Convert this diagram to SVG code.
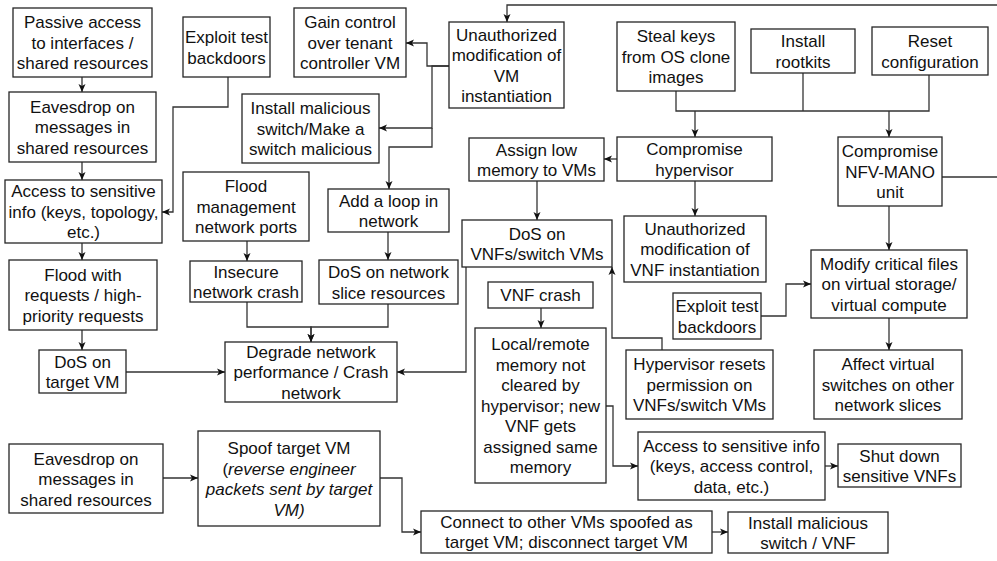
<svg xmlns="http://www.w3.org/2000/svg" width="997" height="561" viewBox="0 0 997 561">
  <style>
    .box { fill: #ffffff; stroke: #262626; stroke-width: 1.3; }
    .lbl { font-family: "Liberation Sans", Arial, Helvetica, sans-serif; font-size: 17px; fill: #111111; text-anchor: middle; }
    .it { font-style: italic; }
    .wire { fill: none; stroke: #333333; stroke-width: 1.3; }
    .arr { marker-end: url(#head); }
  </style>
  <defs>
    <marker id="head" markerUnits="userSpaceOnUse" markerWidth="10" markerHeight="10" viewBox="0 0 10 10" refX="9" refY="5" orient="auto">
      <path d="M1,1.5 L9,5 L1,8.5 L3,5 z" fill="#111111"/>
    </marker>
  </defs>

  <rect width="997" height="561" fill="#ffffff"/>

  <!-- connectors -->
  <g id="connectors">
    <path class="wire arr" d="M82,77 V92"/>
    <path class="wire arr" d="M82,162 V180"/>
    <path class="wire arr" d="M82,243 V260"/>
    <path class="wire arr" d="M82,330 V350"/>
    <path class="wire arr" d="M228,77 V107 H173 V212 H162"/>
    <path class="wire arr" d="M126,372 H225"/>
    <path class="wire arr" d="M247,241 V261"/>
    <path class="wire arr" d="M247,302 V327 H311 V342"/>
    <path class="wire arr" d="M388,304 V327 H311 V342"/>
    <path class="wire arr" d="M388,232 V260"/>
    <path class="wire arr" d="M449,66 H427 V43 H406"/>
    <path class="wire arr" d="M449,66 H432 V128 H379"/>
    <path class="wire arr" d="M432,128 V147 H389 V189"/>
    <path class="wire arr" d="M942,177 H1004 V5 H507 V22"/>
    <path class="wire" d="M676,91 V111 H929 V75"/>
    <path class="wire" d="M803,73 V111"/>
    <path class="wire arr" d="M695,111 V137"/>
    <path class="wire arr" d="M889,111 V137"/>
    <path class="wire arr" d="M617,159 H604"/>
    <path class="wire arr" d="M537,181 V220"/>
    <path class="wire arr" d="M695,181 V216"/>
    <path class="wire arr" d="M466,267 V372 H397"/>
    <path class="wire arr" d="M662,350 V338 H612 V267"/>
    <path class="wire arr" d="M889,206 V250"/>
    <path class="wire arr" d="M761,316 H786 V284 H811"/>
    <path class="wire arr" d="M889,318 V350"/>
    <path class="wire arr" d="M541,308 V328"/>
    <path class="wire arr" d="M606,406 H613 V466 H638"/>
    <path class="wire arr" d="M825,466 H838"/>
    <path class="wire arr" d="M163,478 H198"/>
    <path class="wire arr" d="M380,478 H402 V532 H421"/>
    <path class="wire arr" d="M712,532 H728"/>
  </g>

  <!-- nodes -->
  <g id="passive-access">
    <rect class="box" x="13" y="8" width="139" height="69"/>
    <text class="lbl" x="82.5" y="28">Passive access</text>
    <text class="lbl" x="82.5" y="48.5">to interfaces /</text>
    <text class="lbl" x="82.5" y="69">shared resources</text>
  </g>
  <g id="eavesdrop-1">
    <rect class="box" x="9" y="92" width="147" height="70"/>
    <text class="lbl" x="82.5" y="112.5">Eavesdrop on</text>
    <text class="lbl" x="82.5" y="133">messages in</text>
    <text class="lbl" x="82.5" y="153.5">shared resources</text>
  </g>
  <g id="sensitive-info-1">
    <rect class="box" x="5" y="180" width="157" height="63"/>
    <text class="lbl" x="83.5" y="197">Access to sensitive</text>
    <text class="lbl" x="83.5" y="217.5">info (keys, topology,</text>
    <text class="lbl" x="83.5" y="238">etc.)</text>
  </g>
  <g id="flood-requests">
    <rect class="box" x="9" y="260" width="148" height="70"/>
    <text class="lbl" x="83" y="280.5">Flood with</text>
    <text class="lbl" x="83" y="301">requests / high-</text>
    <text class="lbl" x="83" y="321.5">priority requests</text>
  </g>
  <g id="dos-target-vm">
    <rect class="box" x="39" y="350" width="87" height="43"/>
    <text class="lbl" x="82.5" y="367.5">DoS on</text>
    <text class="lbl" x="82.5" y="388">target VM</text>
  </g>
  <g id="exploit-backdoors-1">
    <rect class="box" x="183" y="17" width="87" height="60"/>
    <text class="lbl" x="226.5" y="43">Exploit test</text>
    <text class="lbl" x="226.5" y="63.5">backdoors</text>
  </g>
  <g id="gain-control">
    <rect class="box" x="294" y="8" width="112" height="69"/>
    <text class="lbl" x="350" y="28">Gain control</text>
    <text class="lbl" x="350" y="48.5">over tenant</text>
    <text class="lbl" x="350" y="69">controller VM</text>
  </g>
  <g id="install-malicious-switch">
    <rect class="box" x="242" y="94" width="137" height="69"/>
    <text class="lbl" x="310.5" y="114">Install malicious</text>
    <text class="lbl" x="310.5" y="134.5">switch/Make a</text>
    <text class="lbl" x="310.5" y="155">switch malicious</text>
  </g>
  <g id="flood-mgmt-ports">
    <rect class="box" x="183" y="172" width="126" height="69"/>
    <text class="lbl" x="246" y="192">Flood</text>
    <text class="lbl" x="246" y="212.5">management</text>
    <text class="lbl" x="246" y="233">network ports</text>
  </g>
  <g id="insecure-crash">
    <rect class="box" x="190" y="261" width="112" height="41"/>
    <text class="lbl" x="246" y="277.5">Insecure</text>
    <text class="lbl" x="246" y="298">network crash</text>
  </g>
  <g id="add-loop">
    <rect class="box" x="328" y="189" width="121" height="43"/>
    <text class="lbl" x="388.5" y="206.5">Add a loop in</text>
    <text class="lbl" x="388.5" y="227">network</text>
  </g>
  <g id="dos-slice">
    <rect class="box" x="319" y="260" width="139" height="44"/>
    <text class="lbl" x="388.5" y="278">DoS on network</text>
    <text class="lbl" x="388.5" y="298.5">slice resources</text>
  </g>
  <g id="degrade-network">
    <rect class="box" x="225" y="342" width="172" height="60"/>
    <text class="lbl" x="311" y="357.5">Degrade network</text>
    <text class="lbl" x="311" y="378">performance / Crash</text>
    <text class="lbl" x="311" y="398.5">network</text>
  </g>
  <g id="unauth-vm-instantiation">
    <rect class="box" x="449" y="22" width="115" height="86"/>
    <text class="lbl" x="506.5" y="40.5">Unauthorized</text>
    <text class="lbl" x="506.5" y="61">modification of</text>
    <text class="lbl" x="506.5" y="81.5">VM</text>
    <text class="lbl" x="506.5" y="102">instantiation</text>
  </g>
  <g id="assign-low-memory">
    <rect class="box" x="469" y="138" width="135" height="43"/>
    <text class="lbl" x="536.5" y="155.5">Assign low</text>
    <text class="lbl" x="536.5" y="176">memory to VMs</text>
  </g>
  <g id="dos-vnfs">
    <rect class="box" x="462" y="220" width="150" height="47"/>
    <text class="lbl" x="537" y="239.5">DoS on</text>
    <text class="lbl" x="537" y="260">VNFs/switch VMs</text>
  </g>
  <g id="steal-keys">
    <rect class="box" x="617" y="22" width="118" height="69"/>
    <text class="lbl" x="676" y="42">Steal keys</text>
    <text class="lbl" x="676" y="62.5">from OS clone</text>
    <text class="lbl" x="676" y="83">images</text>
  </g>
  <g id="install-rootkits">
    <rect class="box" x="751" y="29" width="104" height="44"/>
    <text class="lbl" x="803" y="47">Install</text>
    <text class="lbl" x="803" y="67.5">rootkits</text>
  </g>
  <g id="reset-config">
    <rect class="box" x="872" y="27" width="116" height="48"/>
    <text class="lbl" x="930" y="47">Reset</text>
    <text class="lbl" x="930" y="67.5">configuration</text>
  </g>
  <g id="compromise-hypervisor">
    <rect class="box" x="617" y="137" width="155" height="44"/>
    <text class="lbl" x="694.5" y="155">Compromise</text>
    <text class="lbl" x="694.5" y="175.5">hypervisor</text>
  </g>
  <g id="compromise-nfv-mano">
    <rect class="box" x="838" y="137" width="104" height="69"/>
    <text class="lbl" x="890" y="157">Compromise</text>
    <text class="lbl" x="890" y="177.5">NFV-MANO</text>
    <text class="lbl" x="890" y="198">unit</text>
  </g>
  <g id="unauth-vnf-instantiation">
    <rect class="box" x="624" y="216" width="142" height="66"/>
    <text class="lbl" x="695" y="234.5">Unauthorized</text>
    <text class="lbl" x="695" y="255">modification of</text>
    <text class="lbl" x="695" y="275.5">VNF instantiation</text>
  </g>
  <g id="modify-critical-files">
    <rect class="box" x="811" y="250" width="156" height="68"/>
    <text class="lbl" x="889" y="269.5">Modify critical files</text>
    <text class="lbl" x="889" y="290">on virtual storage/</text>
    <text class="lbl" x="889" y="310.5">virtual compute</text>
  </g>
  <g id="exploit-backdoors-2">
    <rect class="box" x="673" y="293" width="88" height="46"/>
    <text class="lbl" x="717" y="312">Exploit test</text>
    <text class="lbl" x="717" y="332.5">backdoors</text>
  </g>
  <g id="affect-virtual-switches">
    <rect class="box" x="814" y="350" width="148" height="69"/>
    <text class="lbl" x="888" y="370">Affect virtual</text>
    <text class="lbl" x="888" y="390.5">switches on other</text>
    <text class="lbl" x="888" y="411">network slices</text>
  </g>
  <g id="hypervisor-resets">
    <rect class="box" x="626" y="350" width="147" height="69"/>
    <text class="lbl" x="699.5" y="370">Hypervisor resets</text>
    <text class="lbl" x="699.5" y="390.5">permission on</text>
    <text class="lbl" x="699.5" y="411">VNFs/switch VMs</text>
  </g>
  <g id="vnf-crash">
    <rect class="box" x="488" y="282" width="105" height="26"/>
    <text class="lbl" x="540.5" y="301">VNF crash</text>
  </g>
  <g id="memory-not-cleared">
    <rect class="box" x="475" y="328" width="131" height="155"/>
    <text class="lbl" x="540.5" y="350">Local/remote</text>
    <text class="lbl" x="540.5" y="370.5">memory not</text>
    <text class="lbl" x="540.5" y="391">cleared by</text>
    <text class="lbl" x="540.5" y="411.5">hypervisor; new</text>
    <text class="lbl" x="540.5" y="432">VNF gets</text>
    <text class="lbl" x="540.5" y="452.5">assigned same</text>
    <text class="lbl" x="540.5" y="473">memory</text>
  </g>
  <g id="sensitive-info-2">
    <rect class="box" x="638" y="432" width="187" height="68"/>
    <text class="lbl" x="731.5" y="451.5">Access to sensitive info</text>
    <text class="lbl" x="731.5" y="472">(keys, access control,</text>
    <text class="lbl" x="731.5" y="492.5">data, etc.)</text>
  </g>
  <g id="shut-down-vnfs">
    <rect class="box" x="838" y="444" width="123" height="43"/>
    <text class="lbl" x="899.5" y="461.5">Shut down</text>
    <text class="lbl" x="899.5" y="482">sensitive VNFs</text>
  </g>
  <g id="eavesdrop-2">
    <rect class="box" x="9" y="444" width="154" height="69"/>
    <text class="lbl" x="86" y="464.5">Eavesdrop on</text>
    <text class="lbl" x="86" y="485">messages in</text>
    <text class="lbl" x="86" y="505.5">shared resources</text>
  </g>
  <g id="spoof-target-vm">
    <rect class="box" x="198" y="431" width="182" height="95"/>
    <text class="lbl" x="289" y="454">Spoof target VM</text>
    <text class="lbl" x="289" y="474.5">(<tspan class="it">reverse engineer</tspan></text>
    <text class="lbl it" x="289" y="495">packets sent by target</text>
    <text class="lbl it" x="289" y="515.5">VM)</text>
  </g>
  <g id="connect-spoofed">
    <rect class="box" x="421" y="511" width="291" height="42"/>
    <text class="lbl" x="566.5" y="527.5">Connect to other VMs spoofed as</text>
    <text class="lbl" x="566.5" y="548">target VM; disconnect target VM</text>
  </g>
  <g id="install-switch-vnf">
    <rect class="box" x="728" y="512" width="160" height="41"/>
    <text class="lbl" x="808" y="528.5">Install malicious</text>
    <text class="lbl" x="808" y="549">switch / VNF</text>
  </g>
</svg>
